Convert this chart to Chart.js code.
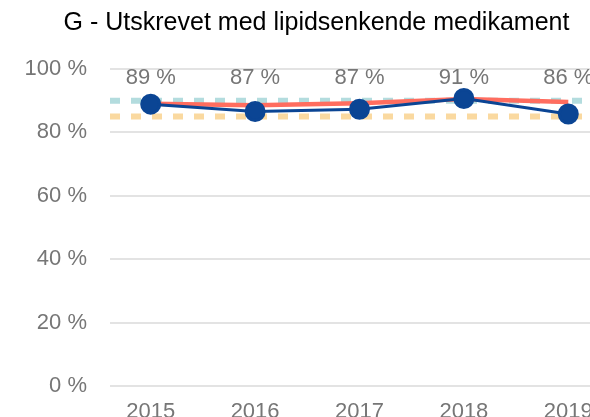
<!DOCTYPE html>
<html>
<head>
<meta charset="utf-8">
<script src="https://cdn.jsdelivr.net/npm/chart.js@4"></script>
<style>
  html, body { margin: 0; padding: 0; background: #fff; overflow: hidden; }
  canvas { display: block; }
</style>
</head>
<body>
<canvas id="chart" width="633" height="417"></canvas>
<script>
// Chart data
const years = ['2015', '2016', '2017', '2018', '2019'];
const unitValues = [88.9, 86.6, 87.3, 90.7, 85.8];     // blue series
const regionValues = [89.0, 88.6, 89.2, 90.5, 89.6];   // red series
const upperTarget = 90;   // teal dashed line
const lowerTarget = 85;   // orange dashed line
const yTicks = [0, 20, 40, 60, 80, 100];

const xIndex = years.map((y, i) => i);
const edges = [-0.39, 4.62];   // plot runs past the right edge of the picture
const fontFamily = '"Liberation Sans", Arial, sans-serif';

// Labels above the blue points
const valueLabels = {
    id: 'valueLabels',
    afterDatasetsDraw(chart) {
        const ctx = chart.ctx;
        const xScale = chart.scales.x;
        ctx.save();
        ctx.font = '22px ' + fontFamily;
        ctx.fillStyle = '#767676';
        ctx.textAlign = 'center';
        ctx.textBaseline = 'middle';
        unitValues.forEach((v, i) => {
            ctx.fillText(Math.round(v) + ' %', xScale.getPixelForValue(i), chart.chartArea.top + 9);
        });
        ctx.restore();
    }
};

const ctx = document.getElementById('chart').getContext('2d');
new Chart(ctx, {
    type: 'line',
    data: {
        datasets: [
            {
                data: edges.map(x => ({ x: x, y: upperTarget })),
                borderColor: '#b3dcde',
                borderWidth: 6,
                borderDash: [10, 11],
                borderCapStyle: 'butt',
                pointRadius: 0,
                order: 4
            },
            {
                data: edges.map(x => ({ x: x, y: lowerTarget })),
                borderColor: '#fad9a0',
                borderWidth: 6,
                borderDash: [10, 11],
                borderCapStyle: 'butt',
                pointRadius: 0,
                order: 3
            },
            {
                data: xIndex.map(i => ({ x: i, y: regionValues[i] })),
                borderColor: '#ff6d5f',
                borderWidth: 4.5,
                pointRadius: 0,
                order: 2
            },
            {
                data: xIndex.map(i => ({ x: i, y: unitValues[i] })),
                borderColor: '#0b4594',
                backgroundColor: '#0b4594',
                borderWidth: 3,
                pointRadius: 9,
                pointHoverRadius: 9,
                order: 1
            }
        ]
    },
    options: {
        responsive: false,
        animation: false,
        devicePixelRatio: 1,
        layout: { padding: 0, autoPadding: false },
        plugins: {
            legend: { display: false },
            tooltip: { enabled: false },
            title: {
                display: true,
                text: 'G - Utskrevet med lipidsenkende medikament',
                color: '#000',
                font: { family: fontFamily, size: 25, weight: 'normal' },
                padding: { top: 8, bottom: 31 }
            }
        },
        scales: {
            x: {
                type: 'linear',
                min: edges[0],
                max: edges[1],
                afterBuildTicks(axis) {
                    axis.ticks = xIndex.map(i => ({ value: i }));
                },
                afterFit(axis) { axis.height = 31; },
                grid: { display: false, drawTicks: false },
                border: { display: false },
                ticks: {
                    color: '#767676',
                    padding: 13,
                    maxRotation: 0,
                    font: { family: fontFamily, size: 22 },
                    callback: v => years[v]
                }
            },
            y: {
                min: 0,
                max: 100,
                afterBuildTicks(axis) {
                    axis.ticks = yTicks.map(v => ({ value: v }));
                },
                afterFit(axis) { axis.width = 110; },
                grid: { color: '#e3e3e3', lineWidth: 2, drawTicks: false },
                border: { display: false },
                ticks: {
                    color: '#767676',
                    padding: 23,
                    font: { family: fontFamily, size: 22, lineHeight: 0.7 },
                    callback: v => v + ' %'
                }
            }
        }
    },
    plugins: [valueLabels]
});
</script>
</body>
</html>
